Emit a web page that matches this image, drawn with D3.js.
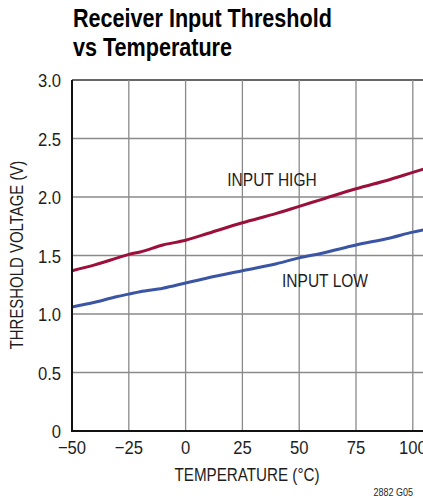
<!DOCTYPE html>
<html>
<head>
<meta charset="utf-8">
<script src="https://cdn.jsdelivr.net/npm/d3@7"></script>
<style>
  body { margin: 0; background: #fff; overflow: hidden; }
  svg { display: block; font-family: "Liberation Sans", Arial, sans-serif; }
</style>
</head>
<body>
<div id="chart"></div>
<script>
// temperatures (°C) and thresholds (V)
const temps = [-50, -40, -30, -25, -20, -10, 0, 10, 25, 40, 50, 60, 75, 90, 100, 105];
const inputHigh = [1.37, 1.42, 1.48, 1.51, 1.53, 1.59, 1.63, 1.69, 1.78, 1.86, 1.92, 1.98, 2.07, 2.15, 2.21, 2.24];
const inputLow = [1.06, 1.10, 1.15, 1.17, 1.19, 1.22, 1.265, 1.31, 1.37, 1.43, 1.48, 1.52, 1.59, 1.65, 1.70, 1.72];
const xTicks = [-50, -25, 0, 25, 50, 75, 100];
const yTicks = [0, 0.5, 1.0, 1.5, 2.0, 2.5, 3.0];

const svgWidth = 423;
const svgHeight = 502;
const margin = { top: 80, left: 72, bottom: 70 };
const plotBottom = svgHeight - margin.bottom;

const svg = d3.select('#chart')
    .append('svg')
    .attr('width', svgWidth)
    .attr('height', svgHeight);

const xScale = d3.scaleLinear()
    .domain([-50, 105])
    .range([margin.left, margin.left + 155 * 56.8 / 25]);

const yScale = d3.scaleLinear()
    .domain([0, 3])
    .range([plotBottom - 1, margin.top]);

// squeezed text to look like the condensed face of the original
function label(parent, x, y, str, size, anchor, sx, rot) {
    return parent.append('text')
        .attr('transform', 'translate(' + x + ',' + y + ')' + (rot ? ' rotate(' + rot + ')' : '') + ' scale(' + sx + ',1)')
        .attr('text-anchor', anchor)
        .style('font-size', size + 'px')
        .style('fill', '#1e1e1e')
        .text(str);
}

// title
label(svg, 73, 27, 'Receiver Input Threshold', 26, 'start', 0.83).style('font-weight', 'bold').style('fill', '#000');
label(svg, 73, 56, 'vs Temperature', 26, 'start', 0.83).style('font-weight', 'bold').style('fill', '#000');

// grid
svg.append('g')
    .selectAll('line')
    .data(yTicks.filter(d => d > 0))
    .enter().append('line')
    .attr('x1', margin.left)
    .attr('x2', svgWidth)
    .attr('y1', d => yScale(d))
    .attr('y2', d => yScale(d))
    .attr('stroke', d => d === 3 ? '#333' : '#8a8a8a')
    .attr('stroke-width', 1.3);

svg.append('g')
    .selectAll('line')
    .data(xTicks.filter(d => d > -50))
    .enter().append('line')
    .attr('x1', d => xScale(d))
    .attr('x2', d => xScale(d))
    .attr('y1', margin.top)
    .attr('y2', yScale(0))
    .attr('stroke', '#8a8a8a')
    .attr('stroke-width', 1.3);

// series
const line = d3.line()
    .x((d, i) => xScale(temps[i]))
    .y(d => yScale(d))
    .curve(d3.curveMonotoneX);

svg.append('path')
    .datum(inputLow)
    .attr('fill', 'none')
    .attr('stroke', '#3a55a4')
    .attr('stroke-width', 3)
    .attr('d', line);

svg.append('path')
    .datum(inputHigh)
    .attr('fill', 'none')
    .attr('stroke', '#9c0f3a')
    .attr('stroke-width', 3)
    .attr('d', line);

// axes
svg.append('line')
    .attr('x1', margin.left).attr('x2', margin.left)
    .attr('y1', margin.top).attr('y2', yScale(0))
    .attr('stroke', '#111').attr('stroke-width', 2);
svg.append('line')
    .attr('x1', margin.left - 1).attr('x2', svgWidth)
    .attr('y1', yScale(0)).attr('y2', yScale(0))
    .attr('stroke', '#111').attr('stroke-width', 2);

const yLabels = svg.append('g');
yTicks.forEach(d => {
    label(yLabels, 61, yScale(d) + 7, d === 0 ? '0' : d.toFixed(1), 18.5, 'end', 0.9);
});

const xLabels = svg.append('g');
xTicks.forEach(d => {
    label(xLabels, xScale(d), 454, d < 0 ? '\u2212' + Math.abs(d) : String(d), 18.5, 'middle', 0.9);
});

// axis titles
label(svg, 247, 481, 'TEMPERATURE (\u00B0C)', 19, 'middle', 0.8);
label(svg, 23, 255, 'THRESHOLD VOLTAGE (V)', 18, 'middle', 0.83, -90);

// series labels
label(svg, 272, 186, 'INPUT HIGH', 18.5, 'middle', 0.84);
label(svg, 325, 287, 'INPUT LOW', 18.5, 'middle', 0.84);

label(svg, 413, 496, '2882 G05', 10, 'end', 0.9);
</script>
</body>
</html>
